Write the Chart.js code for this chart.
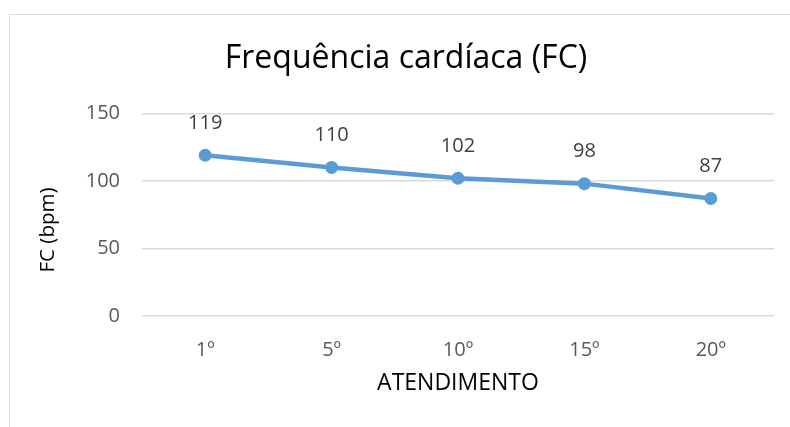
<!DOCTYPE html>
<html>
<head>
<meta charset="utf-8">
<script src="https://cdn.jsdelivr.net/npm/chart.js@4"></script>
<style>
  html, body { margin: 0; padding: 0; background: #fff; }
  #wrap { width: 790px; height: 427px; }
</style>
</head>
<body>
<div id="wrap"><canvas id="chart" width="790" height="427"></canvas></div>
<script>
// Data
const atendimentos = ['1º', '5º', '10º', '15º', '20º'];
const fcValues = [119, 110, 102, 98, 87];
const yTicks = [0, 50, 100, 150];

const FONT = '"Open Sans", "Liberation Sans", sans-serif';

// light grey frame of the chart object + y axis title
const framePlugin = {
  id: 'frame',
  beforeDraw(chart) {
    const ctx = chart.ctx;
    ctx.save();
    ctx.fillStyle = '#fff';
    ctx.fillRect(0, 0, chart.width, chart.height);
    ctx.strokeStyle = '#d9d9d9';
    ctx.lineWidth = 1;
    ctx.strokeRect(9.5, 14.5, 800, 450);
    ctx.restore();
  },
  afterDraw(chart) {
    const ctx = chart.ctx;
    ctx.save();
    ctx.translate(48, 230);
    ctx.rotate(-Math.PI / 2);
    ctx.font = '20.5px ' + FONT;
    ctx.fillStyle = '#000';
    ctx.textAlign = 'center';
    ctx.textBaseline = 'middle';
    ctx.fillText('FC (bpm)', 0, 0);
    ctx.restore();
  },
};

// value labels above the points
const labelsPlugin = {
  id: 'valueLabels',
  afterDatasetsDraw(chart) {
    const ctx = chart.ctx;
    const meta = chart.getDatasetMeta(0);
    ctx.save();
    ctx.font = '20px ' + FONT;
    ctx.fillStyle = '#404040';
    ctx.textAlign = 'center';
    ctx.textBaseline = 'middle';
    meta.data.forEach((pt, i) => {
      ctx.fillText(String(fcValues[i]), pt.x, pt.y - 32);
    });
    ctx.restore();
  },
};

new Chart(document.getElementById('chart'), {
  type: 'line',
  data: {
    labels: atendimentos,
    datasets: [
      {
        data: fcValues,
        borderColor: '#5b9bd5',
        backgroundColor: '#5b9bd5',
        borderWidth: 4.5,
        pointRadius: 6.5,
        pointHoverRadius: 6.5,
        pointBorderWidth: 0,
        tension: 0,
      },
    ],
  },
  options: {
    responsive: false,
    animation: false,
    layout: { padding: { left: 38, right: 16, top: 0, bottom: 0 } },
    plugins: {
      legend: { display: false },
      tooltip: { enabled: false },
      title: {
        display: true,
        text: 'Frequência cardíaca (FC)',
        color: '#000',
        font: { family: FONT, size: 32, weight: 'normal' },
        padding: { top: 40, bottom: 35 },
      },
    },
    scales: {
      x: {
        offset: true,
        grid: { display: false, drawTicks: false },
        border: { display: false },
        ticks: { color: '#595959', font: { family: FONT, size: 20 }, padding: 22 },
        title: {
          display: true,
          text: 'ATENDIMENTO',
          color: '#000',
          font: { family: FONT, size: 23 },
          padding: { top: 0, bottom: 30 },
        },
        afterFit(scale) { scale.height = 111; },
      },
      y: {
        min: 0,
        max: 150,
        afterBuildTicks(scale) { scale.ticks = yTicks.map((v) => ({ value: v })); },
        grid: { color: '#d9d9d9', lineWidth: 1.5, drawTicks: false },
        border: { display: false },
        ticks: { color: '#595959', font: { family: FONT, size: 20 }, padding: 22 },
        afterFit(scale) { scale.width = 104; },
      },
    },
  },
  plugins: [framePlugin, labelsPlugin],
});
</script>
</body>
</html>
